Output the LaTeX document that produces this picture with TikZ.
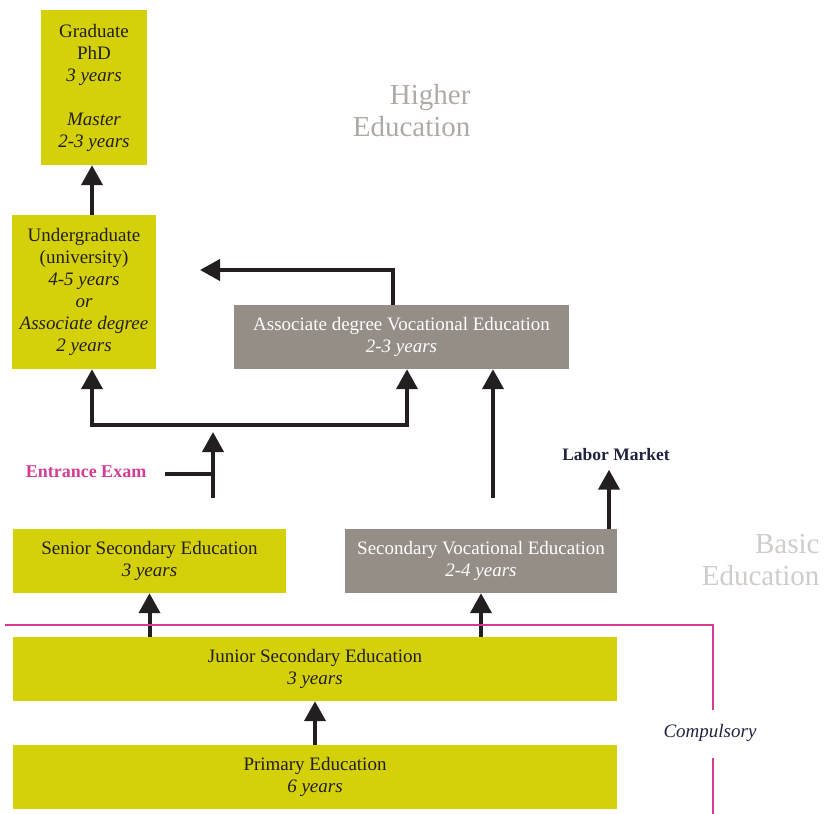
\documentclass[tikz,border=0pt]{standalone}
\usepackage{fontspec}
\setmainfont{Liberation Serif}
\usetikzlibrary{arrows.meta}
\definecolor{lime}{HTML}{D4D00A}
\definecolor{stone}{HTML}{948E87}
\definecolor{ink}{HTML}{231F20}
\definecolor{pink}{HTML}{D43C94}
\definecolor{navy}{HTML}{1F2340}

\begin{document}
\begin{tikzpicture}[x = 1pt, y = -1pt,
  box/.style = {inner sep = 0pt, align = center, text = ink,
    font = \fontsize{19}{22}\selectfont},
  limebox/.style = {box, fill = lime},
  stonebox/.style = {box, fill = stone, text = white},
  arr/.style = {draw = ink, line width = 4pt, -{Triangle[width = 21pt, length = 20pt]}},
  link/.style = {draw = ink, line width = 4pt},
  band/.style = {draw = pink, line width = 1.2pt},
  sector/.style = {align = right, anchor = east, font = \fontsize{29}{32}\selectfont}]
\useasboundingbox (0,0) rectangle (825,814);
% boxes
\node [limebox, minimum width = 106pt, minimum height = 155pt] (grad) at (94,87.5)
  {Graduate\\PhD\\\textit{3 years}\\[22pt]\textit{Master}\\\textit{2-3 years}};
\node [limebox, minimum width = 144pt, minimum height = 154pt] (ug) at (84,292)
  {Undergraduate\\(university)\\\textit{4-5 years}\\\textit{or}\\\textit{Associate degree}\\\textit{2 years}};
\node [stonebox, minimum width = 335pt, minimum height = 64pt] (adv) at (401.5,337)
  {Associate degree Vocational Education\\\textit{2-3 years}};
\node [limebox, minimum width = 273pt, minimum height = 64pt] (senior) at (149.5,561)
  {Senior Secondary Education\\\textit{3 years}};
\node [stonebox, minimum width = 272pt, minimum height = 64pt] (svoc) at (481,561)
  {Secondary Vocational Education\\\textit{2-4 years}};
\node [limebox, minimum width = 604pt, minimum height = 64pt] (junior) at (315,669)
  {Junior Secondary Education\\\textit{3 years}};
\node [limebox, minimum width = 604pt, minimum height = 64pt] (primary) at (315,777)
  {Primary Education\\\textit{6 years}};
% labels
\node [sector, text = stone!75] (higher) at (474,111) {Higher\\Education};
\node [sector, text = stone!45] (basic) at (823,560) {Basic\\Education};
\node [font = \fontsize{18}{20}\selectfont\bfseries, text = pink] (exam) at (86,472) {Entrance Exam};
\node [font = \fontsize{17.5}{20}\selectfont\bfseries, text = navy] (labor) at (616,455) {Labor Market};
\node [font = \fontsize{19}{20}\selectfont\itshape, text = navy] (comp) at (710,733) {Compulsory};
% free ends
\coordinate (ugin) at (200,270);
\coordinate (split) at (213,425);
\coordinate (examtip) at (213,432);
\coordinate (exambase) at (213,498);
\coordinate (examstub) at (165,474);
\coordinate (examjoin) at (213,474);
\coordinate (vocbase) at (493,498);
\coordinate (bandstart) at (5,625);
\coordinate (bandabove) at (713,710);
\coordinate (bandbelow) at (713,758);
\coordinate (bandend) at (713,814);
% arrows
\draw [arr] (grad.south -| 92,0) ++(0,50) -- (grad.south -| 92,0);
\draw [arr] (adv.north -| 393,0) |- (ugin);
\draw [arr] (split) -| ([xshift = 8pt]ug.south);
\draw [arr] (split) -| ([xshift = 5.5pt]adv.south);
\draw [arr] (exambase) -- (examtip);
\draw [link] (examstub) -- (examjoin);
\draw [arr] (vocbase) -- (adv.south -| vocbase);
\draw [arr] (svoc.north -| 609,0) -- ([yshift = -5pt]labor.south -| 609,0);
\draw [arr] (senior.south |- junior.north) -- (senior.south);
\draw [arr] (svoc.south |- junior.north) -- (svoc.south);
\draw [arr] (junior.south |- primary.north) -- (junior.south);
% compulsory band
\draw [band] (bandstart) -| (bandabove);
\draw [band] (bandbelow) -- (bandend);
\end{tikzpicture}
\end{document}
